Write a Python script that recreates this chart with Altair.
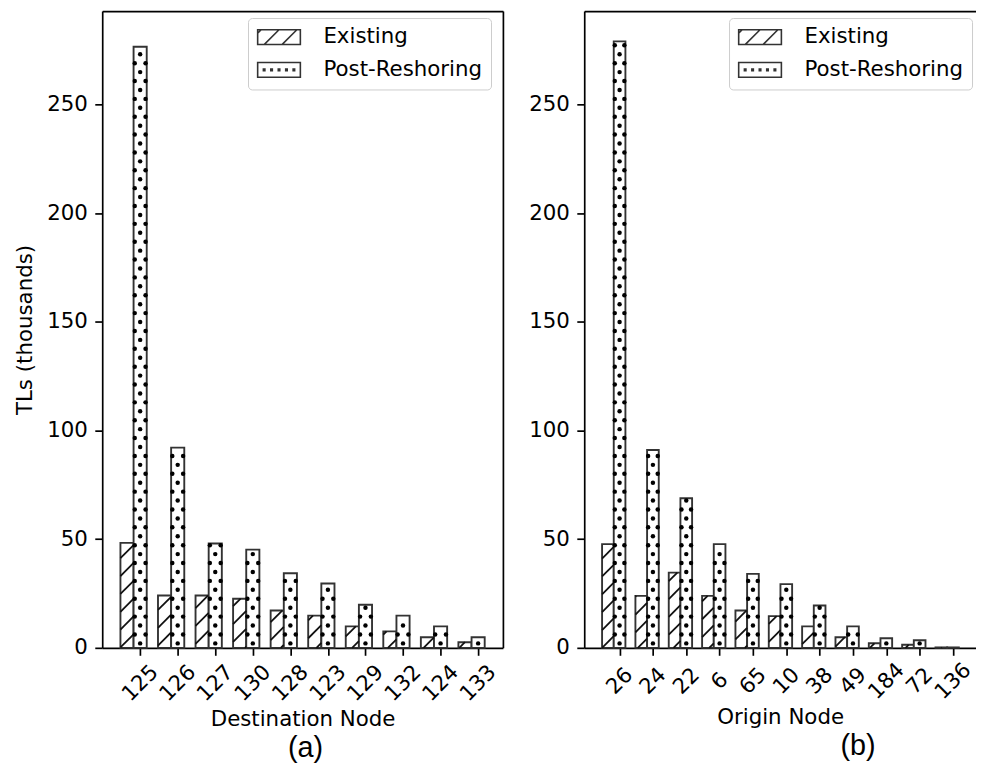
import json
import altair as alt
import pandas as pd

# ---------------- data ----------------
dest_nodes = ["125", "126", "127", "130", "128", "123", "129", "132", "124", "133"]
dest_existing = [48.3, 24.1, 24.1, 22.6, 17.2, 14.8, 9.9, 7.6, 4.9, 2.6]
dest_post = [276.5, 92.1, 48.0, 45.2, 34.3, 29.6, 19.8, 14.8, 9.9, 4.9]

orig_nodes = ["26", "24", "22", "6", "65", "10", "38", "49", "184", "72", "136"]
orig_existing = [47.7, 23.9, 34.6, 23.9, 17.2, 14.6, 9.9, 4.9, 2.1, 1.4, 0.2]
orig_post = [279.0, 91.0, 68.8, 47.7, 34.0, 29.3, 19.5, 9.9, 4.4, 3.5, 0.2]

series_names = ["Existing", "Post-Reshoring"]
y_ticks = [0, 50, 100, 150, 200, 250]

# ---------------- styling constants ----------------
BAR_W = 0.35
Y_MAX = 292.9
PLOT_H = 642
S_LINE = 18.0   # hatch line spacing (px)
S_DOT = 9.0     # dot row spacing (px)
FONT = "DejaVu Sans"
FS = 21.5
EDGE = "#333333"

PATH_EX = ("M-2.87,-1H2.87V1H-2.87Z "
           "M-2.87,-0.53L-2.4,-1 M-2,1L0,-1 M0.4,1L2.4,-1")
PATH_POST = "M-2.87,-1H2.87V1H-2.87Z " + " ".join(
    f"M{x - 0.1:.2f},-0.1h0.2v0.2h-0.2Z" for x in [-2.0, -1.0, 0.0, 1.0, 2.0]
)


def panel_df(nodes, ex, post):
    rows = []
    for i, n in enumerate(nodes):
        rows.append({"i": i, "node": n, "series": series_names[0], "value": ex[i]})
        rows.append({"i": i, "node": n, "series": series_names[1], "value": post[i]})
    return pd.DataFrame(rows)


def panel(nodes, ex, post, width, xmin, xmax, xtitle, ytitle, right_frame,
          tag, tag_dx, legend_x, label_pad):
    df = panel_df(nodes, ex, post)
    kx = width / (xmax - xmin)
    ky = PLOT_H / Y_MAX
    n = len(nodes)

    xscale = alt.Scale(domain=[xmin, xmax], nice=False, zero=False)
    yscale = alt.Scale(domain=[0, Y_MAX], nice=False, zero=True)

    label_expr = f"{json.dumps(nodes)}[round(datum.value - {BAR_W})]"
    xaxis = alt.Axis(
        orient="bottom", values=[i + BAR_W for i in range(n)], labelExpr=label_expr,
        labelAngle=315, labelAlign="center", labelBaseline="middle",
        labelPadding=label_pad, labelOverlap=False, labelFlush=False,
        title=xtitle, titlePadding=4, grid=False,
    )
    yaxis_kwargs = dict(orient="left", values=y_ticks, labelPadding=7.5, grid=False,
                        titlePadding=10)
    if ytitle:
        yaxis = alt.Axis(title=ytitle, **yaxis_kwargs)
    else:
        yaxis = alt.Axis(title=None, **yaxis_kwargs)

    base = (
        alt.Chart(df)
        .transform_calculate(xc=f"datum.i + (datum.series == 'Existing' ? 0 : {BAR_W})")
        .transform_calculate(x0=f"datum.xc - {BAR_W / 2}")
        .transform_calculate(x1=f"datum.xc + {BAR_W / 2}")
        .transform_calculate(zero="0")
    )

    bars = base.mark_rect(fill="white", stroke=EDGE, strokeWidth=1.9).encode(
        x=alt.X("x0:Q", scale=xscale, axis=xaxis),
        x2="x1:Q",
        y=alt.Y("value:Q", scale=yscale, axis=yaxis),
        y2="zero:Q",
    )

    # diagonal "/" hatch for Existing bars
    wpx = BAR_W * kx
    lines = (
        base.transform_filter("datum.series == 'Existing'")
        .transform_calculate(hpx=f"datum.value * {ky}")
        .transform_calculate(ph=f"((datum.x0 - ({xmin})) * {kx}) % {S_LINE}")
        .transform_calculate(
            js=f"sequence(floor((-{wpx} - datum.ph) / {S_LINE}) - 1, "
               f"ceil((datum.hpx - datum.ph) / {S_LINE}) + 2)"
        )
        .transform_flatten(["js"], as_=["j"])
        .transform_calculate(c=f"datum.ph + datum.j * {S_LINE}")
        .transform_calculate(xs="max(0, -datum.c)")
        .transform_calculate(xe=f"min({wpx}, datum.hpx - datum.c)")
        .transform_filter("datum.xe > datum.xs + 0.4")
        .transform_calculate(lx1=f"datum.x0 + datum.xs / {kx}")
        .transform_calculate(ly1=f"(datum.xs + datum.c) / {ky}")
        .transform_calculate(lx2=f"datum.x0 + datum.xe / {kx}")
        .transform_calculate(ly2=f"(datum.xe + datum.c) / {ky}")
        .mark_rule(stroke="#111111", strokeWidth=1.8)
        .encode(
            x=alt.X("lx1:Q", scale=xscale, axis=None),
            x2="lx2:Q",
            y=alt.Y("ly1:Q", scale=yscale, axis=None),
            y2="ly2:Q",
        )
    )

    # dotted hatch for Post-Reshoring bars
    dots = (
        base.transform_filter("datum.series == 'Post-Reshoring'")
        .transform_calculate(hpx=f"datum.value * {ky}")
        .transform_calculate(rs=f"sequence(0, max(1, ceil(datum.hpx / {S_DOT}) + 1))")
        .transform_flatten(["rs"], as_=["r"])
        .transform_calculate(yp=f"datum.r * {S_DOT} + {S_DOT / 2}")
        .transform_filter("datum.yp < datum.hpx - 1.5")
        .transform_calculate(cols="datum.r % 2 == 0 ? [0.5] : [0.09, 0.91]")
        .transform_flatten(["cols"], as_=["col"])
        .transform_calculate(dx=f"datum.x0 + datum.col * {BAR_W}")
        .transform_calculate(dy=f"datum.yp / {ky}")
        .mark_circle(size=20, color="black", opacity=1)
        .encode(
            x=alt.X("dx:Q", scale=xscale, axis=None),
            y=alt.Y("dy:Q", scale=yscale, axis=None),
        )
    )

    legend = alt.Legend(
        title=None, orient="none", legendX=legend_x, legendY=7,
        symbolSize=225, symbolOffset=12, labelOffset=34,
        symbolOpacity=1, symbolStrokeColor=EDGE,
        symbolStrokeWidth=1.6, labelFont=FONT, labelFontSize=FS, labelColor="black",
        labelLimit=400, rowPadding=10, padding=8.5, strokeColor="#cccccc",
        fillColor="white", cornerRadius=4,
    )
    # right-hand frame line (invisible on the cropped right panel)
    frame_y_axis = alt.Axis(orient="right", labels=False, ticks=False, title=None,
                            grid=False, domain=right_frame)
    # helper layer: carries the frame lines and the hatch legend, draws no marks
    frame = (
        base.transform_filter("false")
        .mark_point(filled=False, color=EDGE, strokeWidth=1.6, opacity=1)
        .encode(
            x=alt.X("xc:Q", scale=xscale,
                    axis=alt.Axis(orient="top", labels=False, ticks=False, title=None,
                                  grid=False)),
            y=alt.Y("value:Q", scale=yscale, axis=frame_y_axis),
            shape=alt.Shape("series:N",
                            scale=alt.Scale(domain=series_names,
                                            range=[PATH_EX, PATH_POST]),
                            legend=legend),
        )
    )

    return alt.layer(bars, lines, dots, frame).properties(
        width=width, height=PLOT_H,
        title=alt.TitleParams(text=tag, orient="bottom", anchor="middle", frame="group",
                              font="Liberation Sans", fontSize=29, fontWeight="normal",
                              color="black", offset=4, dx=tag_dx),
    )


left = panel(dest_nodes, dest_existing, dest_post, 404, -0.66, 10.01,
             "Destination Node", "TLs (thousands)", True, "(a)", 3, 147, 28)
right = panel(orig_nodes, orig_existing, orig_post, 395, -0.71, 11.04,
              "Origin Node", None, False, "(b)", 78.5, 146, 26)

chart = (
    alt.hconcat(left, right, spacing=25)
    .resolve_scale(shape="independent")
    .resolve_legend(shape="independent")
    .configure_view(strokeWidth=0)
    .configure_axis(
        domainColor="black", domainWidth=1.7, tickColor="black", tickWidth=1.7,
        tickSize=7.5, labelFont=FONT, labelFontSize=FS, labelColor="black",
        titleFont=FONT, titleFontSize=FS, titleFontWeight="normal", titleColor="black",
        grid=False,
    )
    .properties(padding={"left": 6, "top": 0, "right": 0, "bottom": 0},
                background="white")
)

chart.save("out.html", embed_options={"renderer": "svg", "actions": False})
